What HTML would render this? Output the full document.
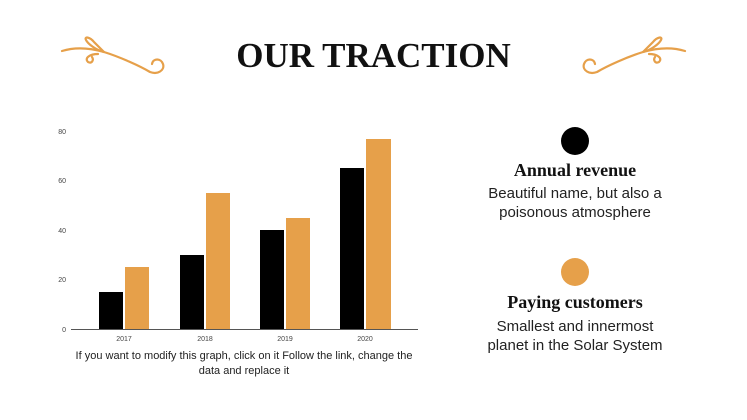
<!DOCTYPE html>
<html><head><style>
html,body{margin:0;padding:0;background:#fff;width:747px;height:420px;overflow:hidden;position:relative;font-family:"Liberation Sans",sans-serif}
.t{position:absolute;white-space:nowrap;text-align:center}
</style></head><body>
<div class="t" style="left:0;width:747px;top:36px;font-family:'Liberation Serif',serif;font-weight:bold;font-size:35px;color:#111">OUR TRACTION</div>
<svg width="747" height="420" style="position:absolute;left:0;top:0">
<g fill="none" stroke="#E6A04A" stroke-width="2.2" stroke-linecap="round">
<g id="sw">
<path d="M62 51 C75 47 90 48 104 52 C120 57 140 66 150 72 C158 75 165 70 163 64 C161 58 153 58 152 64"/>
<path d="M104 52 C96 50 88 44 86 40 C84 36 90 37 94 42 C98 46 102 50 104 52"/>
<path d="M98 54 C90 54 84 58 88 62 C92 64 94 60 92 57"/>
</g>
<use href="#sw" transform="translate(747,0) scale(-1,1)"/>
</g>
<g font-family="Liberation Sans,sans-serif" font-size="7" fill="#444" text-anchor="end">
<text x="66" y="134">80</text><text x="66" y="183">60</text><text x="66" y="233">40</text><text x="66" y="282">20</text><text x="66" y="332">0</text>
</g>
<line x1="71" y1="329.5" x2="418" y2="329.5" stroke="#555" stroke-width="1"/>
<g fill="#000">
<rect x="99" y="292" width="24" height="37"/><rect x="180" y="255" width="24" height="74"/><rect x="260" y="230" width="24" height="99"/><rect x="340" y="168" width="24" height="161"/>
</g>
<g fill="#E6A04A">
<rect x="125" y="267" width="24" height="62"/><rect x="206" y="193" width="24" height="136"/><rect x="286" y="218" width="24" height="111"/><rect x="366" y="139" width="25" height="190"/>
</g>
<g font-family="Liberation Sans,sans-serif" font-size="7" fill="#444" text-anchor="middle">
<text x="124" y="341">2017</text><text x="205" y="341">2018</text><text x="285" y="341">2019</text><text x="365" y="341">2020</text>
</g>
<circle cx="575" cy="141" r="14" fill="#000"/>
<circle cx="575" cy="272" r="14" fill="#E6A04A"/>
</svg>
<div class="t" style="left:44px;width:400px;top:349px;font-size:11px;line-height:15px;color:#222">If you want to modify this graph, click on it Follow the link, change the<br>data and replace it</div>
<div class="t" style="left:425px;width:300px;top:160px;font-family:'Liberation Serif',serif;font-weight:bold;font-size:18px;color:#111">Annual revenue</div>
<div class="t" style="left:425px;width:300px;top:184px;font-size:15px;line-height:19px;color:#222">Beautiful name, but also a<br>poisonous atmosphere</div>
<div class="t" style="left:425px;width:300px;top:292px;font-family:'Liberation Serif',serif;font-weight:bold;font-size:18px;color:#111">Paying customers</div>
<div class="t" style="left:425px;width:300px;top:317px;font-size:15px;line-height:19px;color:#222">Smallest and innermost<br>planet in the Solar System</div>
</body></html>
